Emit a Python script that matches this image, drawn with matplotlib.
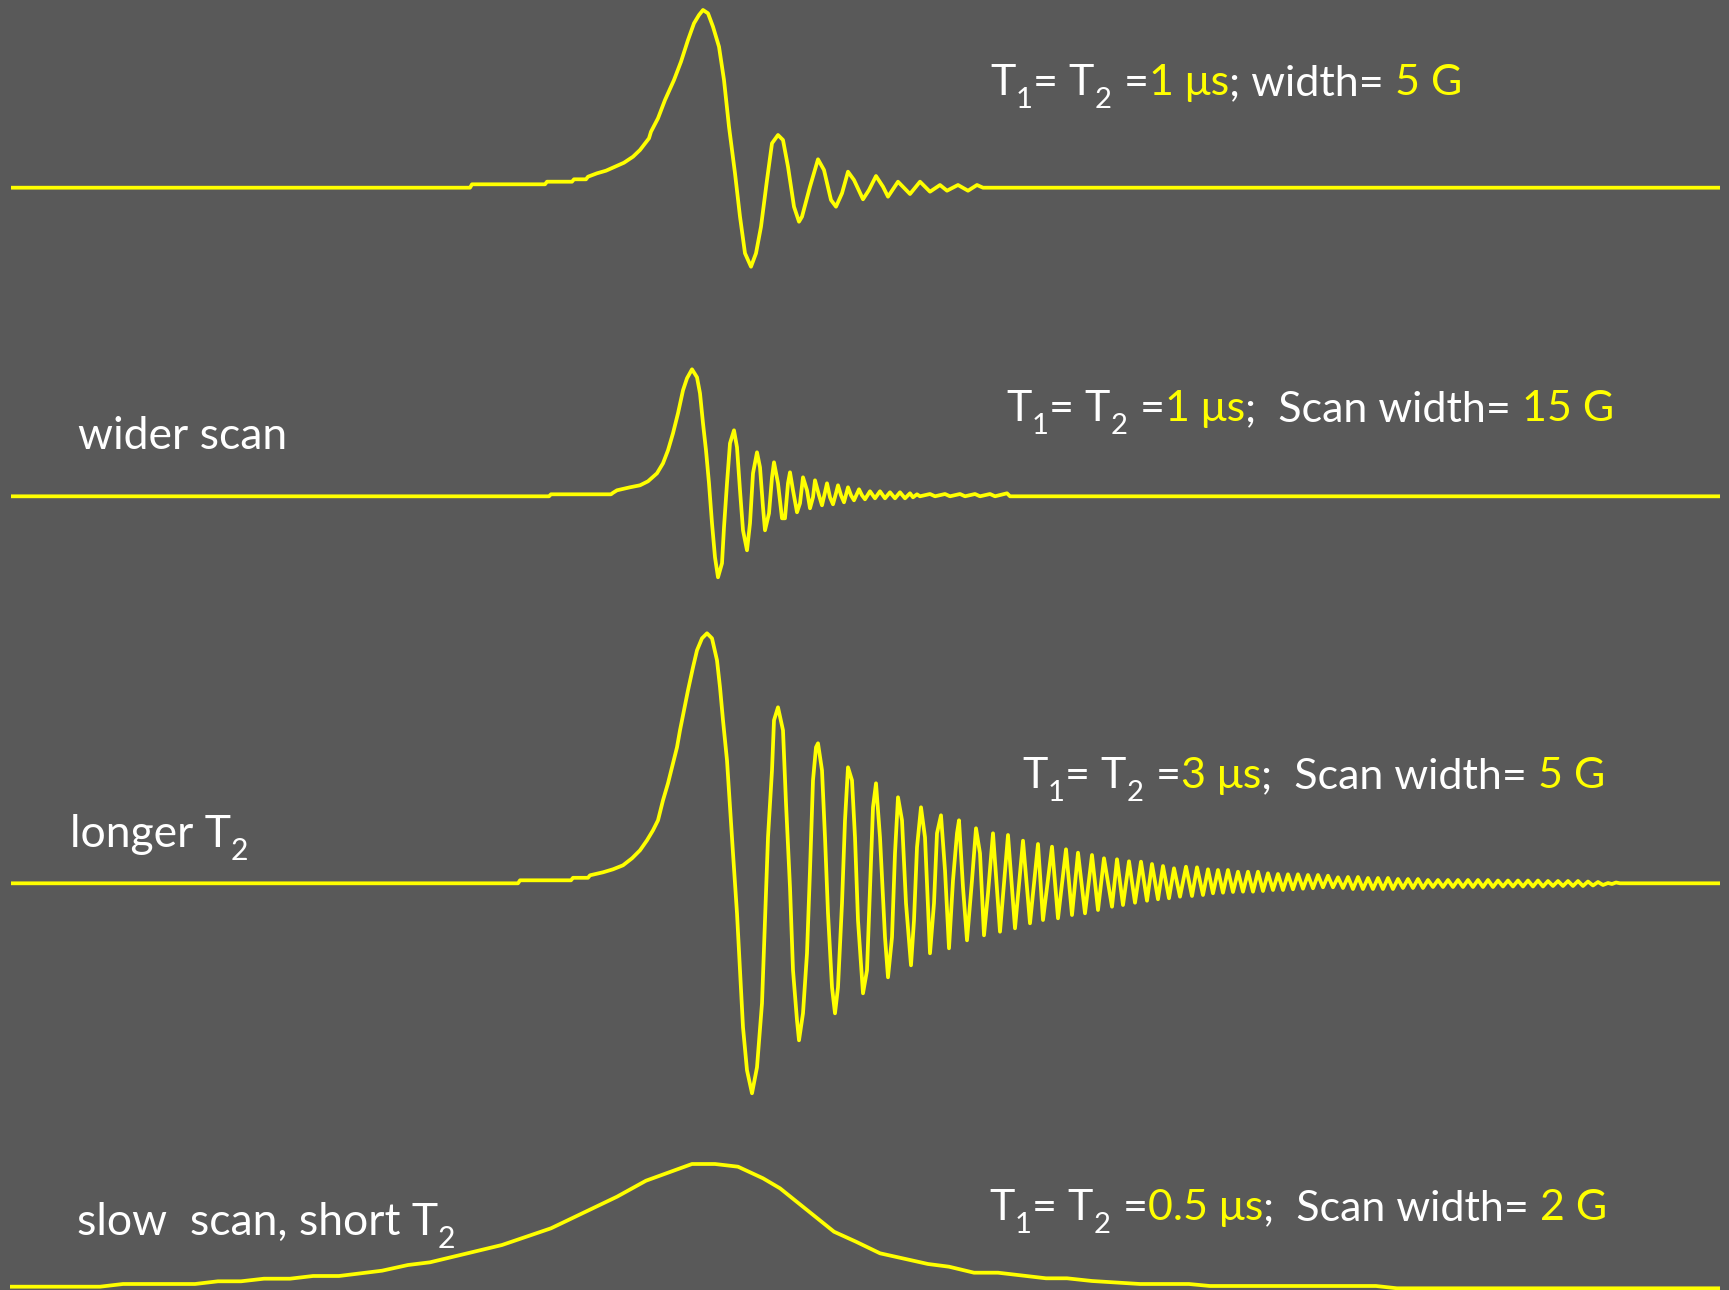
import numpy as np
import matplotlib
matplotlib.use("Agg")
import matplotlib.pyplot as plt

# ---------------- data (field position, signal amplitude) ----------------
trace1 = [(11, 0), (470, 0), (472, 3.4), (545, 3.4), (547, 6), (572, 6), (574, 8.4), (586, 8.4),
          (588, 11), (597, 14.4), (606, 17), (615, 21), (624, 25), (633, 31), (640, 37.7), (649, 49.4),
          (651, 56), (658, 69.4), (665, 87.7), (674, 107.7), (681, 126), (688, 147.7), (694, 164.4),
          (699, 172.7), (703, 177.7), (708, 174.4), (713, 161), (719, 141), (724, 107.7), (729, 61),
          (735, 14.4), (740, -29), (745, -65.6), (751, -79), (756, -65.6), (761, -39), (767, 7.7),
          (772, 44.4), (778, 52.7), (783, 47.7), (788, 21), (794, -19), (799, -34), (802, -29),
          (810, 1), (818, 28.4), (824, 17.7), (831, -12.3), (836, -19), (842, -5.6), (848, 16),
          (854, 7.7), (863, -11.6), (869, -2.3), (876, 11.7), (883, 1), (888, -9), (898, 6),
          (910, -6.3), (920, 6), (930, -4), (940, 2.7), (947, -3), (958, 2.7), (968, -3),
          (977, 2.7), (983, 0), (1720, 0)]

trace2 = [(11, 0), (549, 0), (551, 2), (611, 2), (613, 3.5), (617, 6), (630, 9), (640, 11), (648, 15),
          (657, 23), (663, 33), (668, 46), (673, 63), (678, 83), (683, 106), (687, 118), (692, 127),
          (697, 119), (700, 103), (703, 73), (706, 46), (709, 13), (712, -27), (715, -61), (718, -81),
          (722, -67), (724, -31), (727, 13), (730, 53), (734, 66), (737, 49), (740, 6), (743, -34),
          (747, -54), (750, -27), (753, 23), (757, 44), (760, 29), (763, -11), (765, -34), (769, -17),
          (772, 19), (774, 34), (778, 13), (782, -22), (785, -22), (788, 13), (790, 24), (793, 6),
          (797, -16), (800, -7), (803, 19), (807, 6), (810, -12), (813, -1), (815, 16), (819, 1),
          (822, -9), (825, 4), (827, 13), (830, -1), (833, -8), (836, 3), (838, 11), (841, 1),
          (844, -6), (848, 9), (851, 1), (854, -4), (859, 7), (862, 1), (865, -3), (870, 5),
          (875, -2), (880, 5), (885, -2), (890, 4), (895, -2), (900, 4), (905, -2), (910, 3),
          (913, -1), (917, 2), (920, 0), (930, 2.3), (935, 0), (945, 2.3), (950, 0), (960, 2.3),
          (965, 0), (975, 2.3), (980, 0), (990, 2.3), (995, 0), (1007, 3), (1010, 0), (1720, 0)]

trace3 = [(11, 0), (518, 0), (520, 3), (571, 3), (573, 5.5), (588, 5.5), (590, 8), (603, 11), (613, 14),
          (623, 18), (632, 25), (640, 33), (647, 43), (653, 53), (658, 63), (663, 83), (668, 100),
          (673, 120), (677, 136), (680, 153), (684, 173), (688, 193), (693, 216), (697, 233),
          (702, 245), (707, 250), (712, 245), (717, 223), (720, 196), (723, 163), (727, 123),
          (730, 76), (733, 30), (737, -30), (740, -87), (743, -144), (747, -187), (752, -210),
          (757, -184), (762, -120), (765, -37), (768, 46), (772, 113), (774, 163), (778, 176),
          (783, 153), (786, 80), (790, -4), (793, -87), (797, -137), (799, -157), (803, -130),
          (807, -70), (810, 13), (813, 103), (816, 136), (818, 140), (822, 113), (825, 46),
          (828, -30), (832, -104), (835, -130), (838, -104), (842, -20), (845, 63), (848, 116),
          (852, 103), (855, 46), (858, -37), (863, -110), (867, -87), (870, -4), (873, 76),
          (876, 100), (880, 46), (885, -54), (888, -94), (892, -54), (895, 30), (898, 86),
          (902, 63), (906, -20), (911, -82), (914, -37), (917, 36), (921, 76), (925, 46),
          (930, -70), (934, -20), (937, 50), (941, 68), (945, 13), (949, -65), (953, 3), (957, 50),
          (959, 63), (963, -4), (967, -57), (972, 3), (976, 55), (980, 30), (984, -52), (988, -10),
          (993, 50), (1000, -48.4), (1008, 48.3), (1015, -45), (1023, 42.6), (1030, -40),
          (1038, 39.3), (1043, -36.7), (1052, 36.6), (1058, -35), (1066, 34), (1072, -31.7),
          (1078, 30.6), (1085, -30), (1092, 28.3), (1098, -26.7), (1104, 25), (1112, -23.4),
          (1117, 24), (1123, -21.7), (1129, 22), (1135, -19.4), (1141, 21.6), (1147, -17.4),
          (1152, 19.3), (1158, -16), (1163, 17.3), (1169, -15), (1174, 15), (1180, -13.4),
          (1186, 16.6), (1192, -12.7), (1197, 16), (1203, -11.7), (1208, 14), (1213, -10),
          (1218, 13.3), (1223, -9.4), (1228, 13.3), (1233, -8.7), (1238, 11.6), (1243, -8.4),
          (1248, 11.6), (1253, -8.4), (1258, 11.6), (1263, -7.7), (1268, 10), (1273, -6.7),
          (1278, 9.3), (1283, -6.7), (1288, 9), (1293, -6), (1298, 9), (1303, -5.4), (1308, 8.3),
          (1313, -5), (1318, 8.3), (1323, -4), (1328, 7.6), (1333, -4), (1338, 6), (1343, -4.7),
          (1348, 6.3), (1353, -5.7), (1358, 6.3), (1363, -5.7), (1368, 5.3), (1373, -5.7),
          (1378, 5.3), (1383, -5.7), (1388, 5.3), (1393, -5.7), (1398, 4.3), (1403, -4.7),
          (1408, 4.3), (1413, -4.7), (1418, 4.3), (1423, -4.7), (1428, 3.3), (1433, -3.7),
          (1438, 3.3), (1443, -3.7), (1448, 3.3), (1453, -3.7), (1458, 3.3), (1463, -3.7),
          (1468, 3.3), (1473, -3.7), (1478, 3.3), (1483, -3.7), (1488, 3.3), (1493, -3.7),
          (1498, 2.8), (1503, -3.2), (1508, 2.8), (1513, -3.2), (1518, 2.8), (1523, -3.2),
          (1528, 2.8), (1533, -3.2), (1538, 2.8), (1543, -3.2), (1548, 2.3), (1553, -2.7),
          (1558, 2.3), (1563, -2.7), (1568, 2.3), (1573, -2.7), (1578, 2.3), (1583, -2.7),
          (1588, 1.8), (1593, -2.2), (1598, 1.3), (1603, -1.7), (1608, 0.3), (1612, -0.7),
          (1616, 0.8), (1620, 0), (1720, 0)]

trace4 = [(10, 0), (100, 0), (123, 2.7), (195, 2.7), (218, 5.4), (241, 5.4), (264, 8), (290, 8),
          (313, 10.7), (339, 10.7), (382, 16), (408, 21.7), (430, 24.4), (502, 41.7), (551, 58.4),
          (617, 90), (646, 106), (692, 122.7), (715, 122.7), (738, 120), (763, 108.4), (780, 98.4),
          (807, 76.7), (834, 55), (856, 45), (880, 33.4), (928, 22.7), (949, 20), (974, 14),
          (998, 14), (1046, 8.4), (1067, 8.4), (1092, 5.7), (1140, 2.7), (1189, 2.7), (1210, 0.7),
          (1376, 0.7), (1397, -1.6), (1720, -1.6)]

traces = [trace1, trace2, trace3, trace4]

# labels
left_labels = [None, [("wider scan", "w", False)],
               [("longer T", "w", False), ("2", "w", True)],
               [("slow  scan, short T", "w", False), ("2", "w", True)]]
right_labels = [
    [("T", "w", False), ("1", "w", True), ("= T", "w", False), ("2", "w", True), (" =", "w", False),
     ("1 \u03bcs", "y", False), ("; width=", "w", False), (" 5 G", "y", False)],
    [("T", "w", False), ("1", "w", True), ("= T", "w", False), ("2", "w", True), (" =", "w", False),
     ("1 \u03bcs", "y", False), (";  Scan width=", "w", False), (" 15 G", "y", False)],
    [("T", "w", False), ("1", "w", True), ("= T", "w", False), ("2", "w", True), (" =", "w", False),
     ("3 \u03bcs", "y", False), (";  Scan width=", "w", False), (" 5 G", "y", False)],
    [("T", "w", False), ("1", "w", True), ("= T", "w", False), ("2", "w", True), (" =", "w", False),
     ("0.5 \u03bcs", "y", False), (";  Scan width=", "w", False), (" 2 G", "y", False)],
]

# ---------------- layout / style ----------------
W, H, DPI = 1729, 1290, 100
BG = "#595959"
YEL = "#FFFF00"
WHITE = "#FFFFFF"
baselines = [187.7, 496.3, 883.3, 1286.7]
left_pos = [None, (78, 449), (70, 847), (77, 1235)]
right_pos = [(990, 95), (1006, 421), (1022, 788), (989, 1220)]
FS = 31
FS_LEFT = 32
FAMILY = ["Lato", "DejaVu Sans"]

fig = plt.figure(figsize=(W / DPI, H / DPI), dpi=DPI)
fig.patch.set_facecolor(BG)
ax = fig.add_axes([0, 0, 1, 1])
ax.set_facecolor(BG)
ax.set_xlim(0, W)
ax.set_ylim(H, 0)
ax.axis("off")

for tr, base in zip(traces, baselines):
    arr = np.array(tr, dtype=float)
    ax.plot(arr[:, 0], base - arr[:, 1], color=YEL, lw=2.7,
            solid_joinstyle="round", solid_capstyle="butt")

renderer = fig.canvas.get_renderer()
colmap = {"w": WHITE, "y": YEL}


def rich_text(x, y, segs, size):
    cx = x
    for txt, c, sub in segs:
        fs = size * 0.68 if sub else size
        yy = y + (size * 0.30 * DPI / 72 if sub else 0)
        t = ax.text(cx, yy, txt, color=colmap[c], fontsize=fs, family=FAMILY,
                    ha="left", va="baseline")
        bb = t.get_window_extent(renderer)
        cx = bb.x1 + (1 if sub else 0)


for segs, pos in zip(left_labels, left_pos):
    if segs:
        rich_text(pos[0], pos[1], segs, FS_LEFT)
for segs, pos in zip(right_labels, right_pos):
    rich_text(pos[0], pos[1], segs, FS)

fig.savefig("out.png", dpi=DPI, facecolor=BG)
